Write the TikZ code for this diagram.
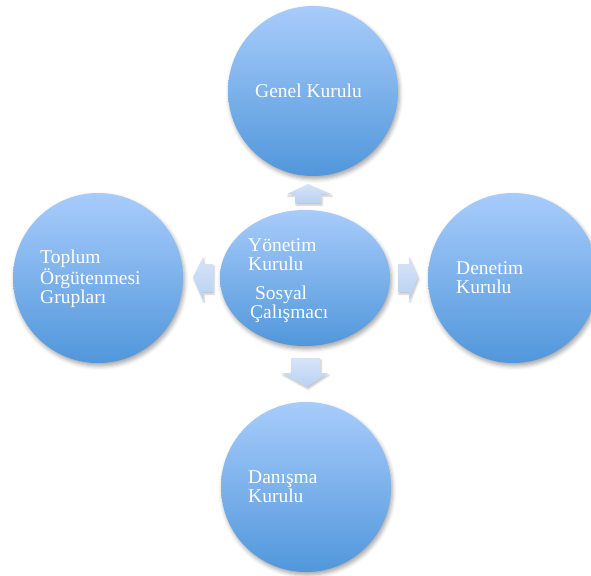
\documentclass[tikz,border=0pt]{standalone}
\usepackage{fontspec}
\setmainfont{Liberation Serif}
\usetikzlibrary{shadows.blur,shapes.geometric}
\definecolor{ctop}{HTML}{A8CCFB}
\definecolor{cbot}{HTML}{5197DB}
\definecolor{atop}{HTML}{D6E4F8}
\definecolor{abot}{HTML}{B9D1F2}
\tikzset{
  bubble/.style={circle, draw=none, inner sep=0pt, minimum size=170pt,
    top color=ctop, bottom color=cbot,
    blur shadow={shadow xshift=1.5pt, shadow yshift=-3pt, shadow blur radius=4pt, shadow opacity=35}},
  label/.style={text=white, font=\fontsize{19.5}{19}\selectfont, align=left, inner sep=0pt, anchor=base west},
  blockarrow/.style={top color=atop, bottom color=abot, draw=none,
    blur shadow={shadow xshift=1pt, shadow yshift=-2pt, shadow blur radius=2pt, shadow opacity=25}}
}
\begin{document}
\begin{tikzpicture}[x=1pt,y=-1pt]
\useasboundingbox (0,0) rectangle (591,575);
% circles
\node[bubble] (genel) at (313,91) {};
\node[bubble] (toplum) at (98,278) {};
\node[bubble] (denetim) at (513,278) {};
\node[bubble] (danisma) at (306,487) {};
\node[bubble, ellipse, minimum width=170pt, minimum height=136pt] (yonetim) at (305,278) {};
% texts (base anchor = baseline of last line)
\node[label] (tgenel) at (255,98) {Genel Kurulu};
\node[label] (tyon) at (248,270) {Yönetim\\Kurulu};
\node[label] (tsos) at (250,318) {\ Sosyal\\Çalışmacı};
\node[label] (ttop) at (40,303) {Toplum\\Örgütenmesi\\Grupları};
\node[label] (tden) at (456,293) {Denetim\\Kurulu};
\node[label] (tdan) at (248,502) {Danışma\\Kurulu};
% block arrows
\path[blockarrow] (295,203) -- (295,194) -- (287,194) -- (308,184) -- (331,194) -- (321,194) -- (321,203) -- cycle;
\path[blockarrow] (213,264) -- (203,264) -- (203,257) -- (193,277) -- (203,300) -- (203,292) -- (213,292) -- cycle;
\path[blockarrow] (398,264) -- (409,264) -- (409,257) -- (418,277) -- (409,300) -- (409,292) -- (398,292) -- cycle;
\path[blockarrow] (291,358) -- (320,358) -- (320,373) -- (328,373) -- (307,387) -- (282,373) -- (291,373) -- cycle;
\end{tikzpicture}
\end{document}
